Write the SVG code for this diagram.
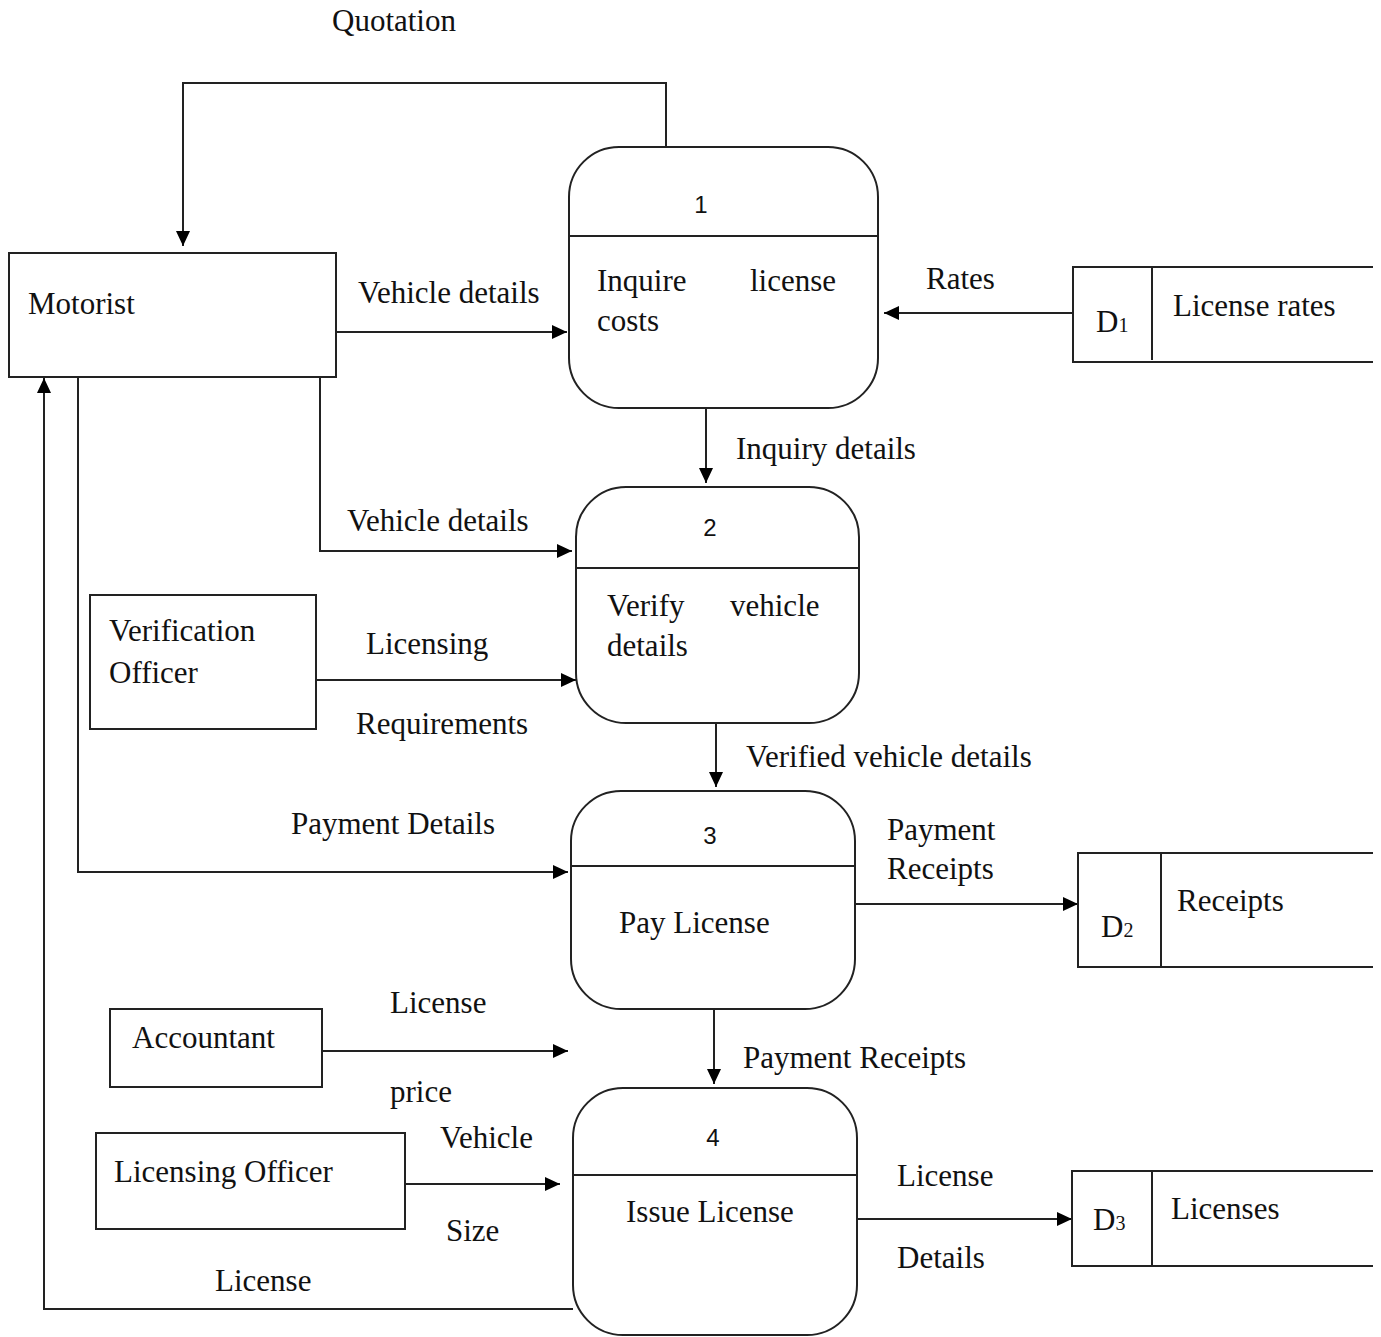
<svg xmlns="http://www.w3.org/2000/svg" width="1381" height="1337" viewBox="0 0 1381 1337">
  <defs>
    <marker id="arrow" markerUnits="userSpaceOnUse" markerWidth="16" markerHeight="14" refX="15" refY="7" orient="auto">
      <path d="M0,0 L15,7 L0,14 z" fill="#000"/>
    </marker>
    <style>
      .box { fill: #fff; stroke: #222; stroke-width: 2; }
      .line { fill: none; stroke: #222; stroke-width: 2; }
      .flow { fill: none; stroke: #222; stroke-width: 2; marker-end: url(#arrow); }
      text { font-family: "Liberation Serif", "Times New Roman", serif; font-size: 31px; fill: #111; }
      .num { font-family: "Liberation Sans", Arial, sans-serif; font-size: 24px; }
      .sub { font-size: 20px; }
    </style>
  </defs>
  <rect width="1381" height="1337" fill="#fff"/>

  <!-- data flows -->
  <g id="connectors">
    <polyline class="flow" points="666,147 666,83 183,83 183,246"/>
    <text x="332" y="31">Quotation</text>

    <line class="flow" x1="336" y1="332" x2="567" y2="332"/>
    <text x="358" y="303">Vehicle details</text>

    <line class="flow" x1="1073" y1="313" x2="884" y2="313"/>
    <text x="926" y="289">Rates</text>

    <line class="flow" x1="706" y1="408" x2="706" y2="483"/>
    <text x="736" y="459">Inquiry details</text>

    <polyline class="flow" points="320,377 320,551 572,551"/>
    <text x="347" y="531">Vehicle details</text>

    <line class="flow" x1="316" y1="680" x2="576" y2="680"/>
    <text x="366" y="654">Licensing</text>
    <text x="356" y="734">Requirements</text>

    <polyline class="flow" points="78,377 78,872 568,872"/>
    <text x="291" y="834">Payment Details</text>

    <line class="flow" x1="716" y1="723" x2="716" y2="787"/>
    <text x="746" y="767">Verified vehicle details</text>

    <line class="flow" x1="855" y1="904" x2="1078" y2="904"/>
    <text x="887" y="840">Payment</text>
    <text x="887" y="879">Receipts</text>

    <line class="flow" x1="714" y1="1009" x2="714" y2="1084"/>
    <text x="743" y="1068">Payment Receipts</text>

    <line class="flow" x1="322" y1="1051" x2="568" y2="1051"/>
    <text x="390" y="1013">License</text>
    <text x="390" y="1102">price</text>

    <line class="flow" x1="405" y1="1184" x2="560" y2="1184"/>
    <text x="440" y="1148">Vehicle</text>
    <text x="446" y="1241">Size</text>

    <polyline class="flow" points="573,1309 44,1309 44,378"/>
    <text x="215" y="1291">License</text>

    <line class="flow" x1="857" y1="1219" x2="1072" y2="1219"/>
    <text x="897" y="1186">License</text>
    <text x="897" y="1268">Details</text>
  </g>

  <!-- external entities -->
  <g id="motorist">
    <rect class="box" x="9" y="253" width="327" height="124"/>
    <text x="28" y="314">Motorist</text>
  </g>
  <g id="verification-officer">
    <rect class="box" x="90" y="595" width="226" height="134"/>
    <text x="109" y="641">Verification</text>
    <text x="109" y="683">Officer</text>
  </g>
  <g id="accountant">
    <rect class="box" x="110" y="1009" width="212" height="78"/>
    <text x="132" y="1048">Accountant</text>
  </g>
  <g id="licensing-officer">
    <rect class="box" x="96" y="1133" width="309" height="96"/>
    <text x="114" y="1182">Licensing Officer</text>
  </g>

  <!-- processes -->
  <g id="process-1">
    <rect class="box" x="569" y="147" width="309" height="261" rx="50" ry="50"/>
    <line class="line" x1="569" y1="236" x2="878" y2="236"/>
    <text class="num" x="701" y="213" text-anchor="middle">1</text>
    <text x="597" y="291">Inquire</text>
    <text x="750" y="291">license</text>
    <text x="597" y="331">costs</text>
  </g>
  <g id="process-2">
    <rect class="box" x="576" y="487" width="283" height="236" rx="50" ry="50"/>
    <line class="line" x1="576" y1="568" x2="859" y2="568"/>
    <text class="num" x="710" y="536" text-anchor="middle">2</text>
    <text x="607" y="616">Verify</text>
    <text x="730" y="616">vehicle</text>
    <text x="607" y="656">details</text>
  </g>
  <g id="process-3">
    <rect class="box" x="571" y="791" width="284" height="218" rx="50" ry="50"/>
    <line class="line" x1="571" y1="866" x2="855" y2="866"/>
    <text class="num" x="710" y="844" text-anchor="middle">3</text>
    <text x="619" y="933">Pay License</text>
  </g>
  <g id="process-4">
    <rect class="box" x="573" y="1088" width="284" height="247" rx="50" ry="50"/>
    <line class="line" x1="573" y1="1175" x2="857" y2="1175"/>
    <text class="num" x="713" y="1146" text-anchor="middle">4</text>
    <text x="626" y="1222">Issue License</text>
  </g>

  <!-- data stores -->
  <g id="store-d1">
    <polyline class="line" points="1373,267 1073,267 1073,362 1373,362"/>
    <line class="line" x1="1152" y1="267" x2="1152" y2="360"/>
    <text x="1096" y="332">D<tspan class="sub">1</tspan></text>
    <text x="1173" y="316">License rates</text>
  </g>
  <g id="store-d2">
    <polyline class="line" points="1373,853 1078,853 1078,967 1373,967"/>
    <line class="line" x1="1161" y1="853" x2="1161" y2="967"/>
    <text x="1101" y="937">D<tspan class="sub">2</tspan></text>
    <text x="1177" y="911">Receipts</text>
  </g>
  <g id="store-d3">
    <polyline class="line" points="1373,1171 1072,1171 1072,1266 1373,1266"/>
    <line class="line" x1="1152" y1="1171" x2="1152" y2="1266"/>
    <text x="1093" y="1230">D<tspan class="sub">3</tspan></text>
    <text x="1171" y="1219">Licenses</text>
  </g>
</svg>
